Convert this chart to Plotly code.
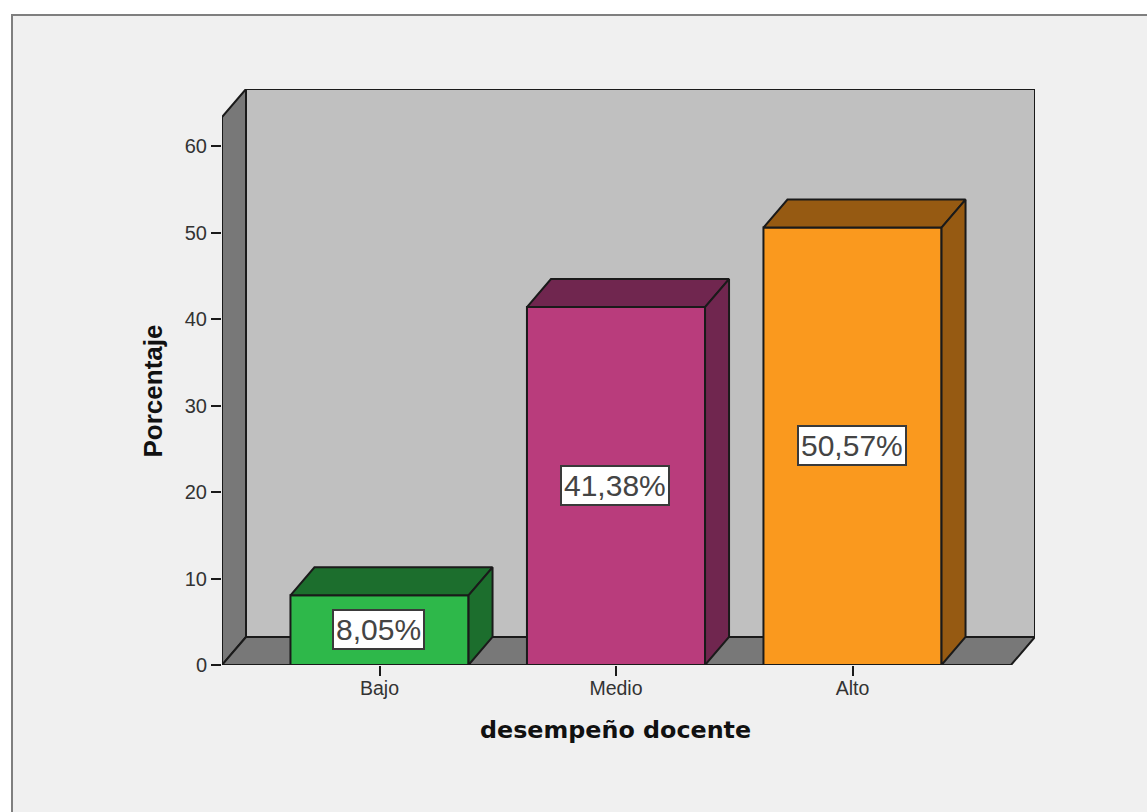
import plotly.graph_objects as go

categories = ["Bajo", "Medio", "Alto"]
percentages = [8.05, 41.38, 50.57]
percent_labels = ["8,05%", "41,38%", "50,57%"]
y_ticks = [0, 10, 20, 30, 40, 50, 60]

front_colors = ["#2EB84A", "#B93C7C", "#FA991E"]
shade_colors = ["#1C6E2D", "#70264F", "#965A12"]

WIDTH, HEIGHT = 1147, 812
LEFT, RIGHT, TOP, BOTTOM = 222, 1035, 89, 665
PX_PER_UNIT = 8.65
PX_PER_CATEGORY = 236.5
FIRST_CENTER = 379.5
BAR_WIDTH = 0.753
EDGE = "#1A1A1A"
SANS = "Liberation Sans, Arial, sans-serif"

# Oblique projection offset that gives the chart its depth, in axis units
DX = 24 / PX_PER_CATEGORY
DY = 28 / PX_PER_UNIT

x_min = (LEFT - FIRST_CENTER) / PX_PER_CATEGORY
x_max = (RIGHT - FIRST_CENTER) / PX_PER_CATEGORY
y_max = (BOTTOM - TOP) / PX_PER_UNIT
front_right = x_max - DX
wall_top = y_max - DY


def polygon(points, fill):
    path = "M " + " L ".join(f"{x},{y}" for x, y in points) + " Z"
    return dict(type="path", path=path, xref="x", yref="y", layer="below",
                fillcolor=fill, line=dict(color=EDGE, width=2))


def paper_x(px):
    return (px - LEFT) / (RIGHT - LEFT)


def paper_y(px):
    return (BOTTOM - px) / (BOTTOM - TOP)


shapes = [
    # Page panel with its frame; right and bottom edges run off the page
    dict(type="rect", xref="paper", yref="paper", layer="below",
         x0=paper_x(12), x1=paper_x(WIDTH + 20),
         y0=paper_y(HEIGHT + 20), y1=paper_y(15),
         fillcolor="#F0F0F0", line=dict(color="#7F7F7F", width=2)),
    # Back wall, left wall and floor of the box
    polygon([(x_min + DX, DY), (x_max, DY), (x_max, y_max), (x_min + DX, y_max)], "#C0C0C0"),
    polygon([(x_min, 0), (x_min + DX, DY), (x_min + DX, y_max), (x_min, wall_top)], "#787878"),
    polygon([(x_min, 0), (front_right, 0), (x_max, DY), (x_min + DX, DY)], "#787878"),
]

fig = go.Figure()

fig.add_trace(go.Bar(
    x=list(range(len(categories))), y=percentages, width=BAR_WIDTH,
    marker=dict(color=front_colors, line=dict(color=EDGE, width=2)),
    showlegend=False, hoverinfo="skip",
))

# Top and side faces of each bar, projected from its value
for i, value in enumerate(percentages):
    x0, x1 = i - BAR_WIDTH / 2, i + BAR_WIDTH / 2
    fig.add_trace(go.Scatter(
        x=[x0, x1, x1 + DX, x0 + DX, x0], y=[value, value, value + DY, value + DY, value],
        mode="lines", fill="toself", fillcolor=shade_colors[i],
        line=dict(color=EDGE, width=2), showlegend=False, hoverinfo="skip",
    ))
    fig.add_trace(go.Scatter(
        x=[x1, x1 + DX, x1 + DX, x1, x1], y=[0, DY, value + DY, value, 0],
        mode="lines", fill="toself", fillcolor=shade_colors[i],
        line=dict(color=EDGE, width=2), showlegend=False, hoverinfo="skip",
    ))

annotations = [
    dict(x=i, y=value / 2, text=percent_labels[i], showarrow=False, xshift=-1, yshift=1,
         font=dict(family=SANS, size=30, color="#444444"),
         bgcolor="#FFFFFF", bordercolor="#3A3A3A", borderwidth=2, borderpad=2)
    for i, value in enumerate(percentages)
]

# Axis titles, centred on the front plane of the box
annotations += [
    dict(x=paper_x(615), y=paper_y(730), xref="paper", yref="paper", showarrow=False,
         text="<b>desempeño docente</b>", xanchor="center", yanchor="middle",
         font=dict(family="DejaVu Sans, sans-serif", size=23.8, color="#111111")),
    dict(x=paper_x(152), y=paper_y(391.5), xref="paper", yref="paper", showarrow=False,
         text="<b>Porcentaje</b>", textangle=-90, xanchor="center", yanchor="middle",
         font=dict(family=SANS, size=26, color="#111111")),
]

fig.update_layout(
    width=WIDTH, height=HEIGHT, autosize=False,
    margin=dict(l=LEFT, r=WIDTH - RIGHT, t=TOP, b=HEIGHT - BOTTOM, autoexpand=False),
    paper_bgcolor="#FFFFFF", plot_bgcolor="rgba(0,0,0,0)",
    font=dict(family=SANS, color="#333333"),
    shapes=shapes, annotations=annotations,
    xaxis=dict(
        range=[x_min, x_max], tickmode="array", tickvals=list(range(len(categories))),
        ticktext=categories, ticks="outside", ticklen=10, tickwidth=2, tickcolor=EDGE,
        tickfont=dict(size=19.5), ticklabelstandoff=-4,
        showgrid=False, zeroline=False, showline=False,
    ),
    yaxis=dict(
        range=[0, y_max], tickmode="array", tickvals=y_ticks,
        ticks="outside", ticklen=10, tickwidth=2, tickcolor=EDGE,
        tickfont=dict(size=20), showgrid=False, zeroline=False, showline=False,
    ),
)

fig.write_html("out.html")
